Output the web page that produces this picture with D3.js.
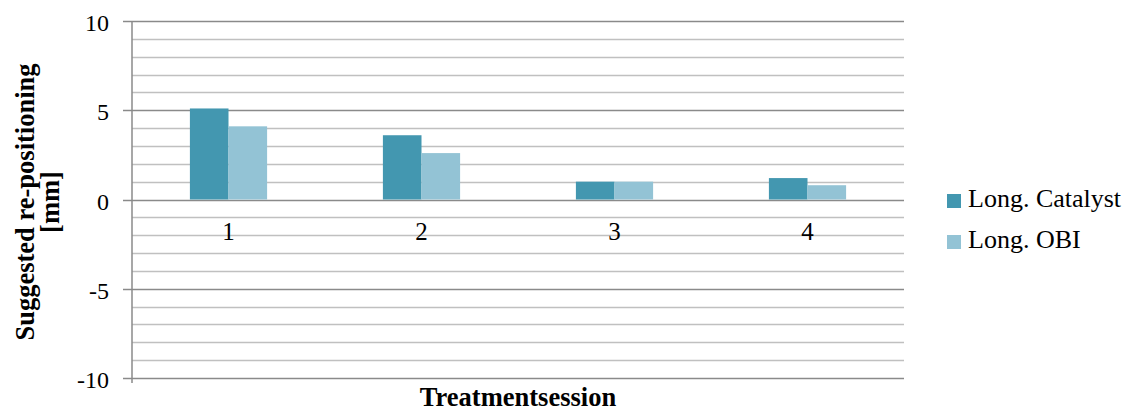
<!DOCTYPE html>
<html>
<head>
<meta charset="utf-8">
<script src="https://cdn.jsdelivr.net/npm/d3@7"></script>
<style>
  body { margin: 0; background: #fff; }
  svg { display: block; }
  text { font-family: "Liberation Serif", "Times New Roman", Times, serif; }
</style>
</head>
<body>
<svg id="chart" width="1127" height="412"></svg>
<script>
// Suggested re-positioning per treatment session
const sessions = ["1", "2", "3", "4"];
const seriesNames = ["Long. Catalyst", "Long. OBI"];
const catalyst = [5.1, 3.6, 1.0, 1.2];
const obi = [4.1, 2.6, 1.0, 0.8];
const yTicks = [-10, -5, 0, 5, 10];
const colors = ["#4397b0", "#93c3d5"];

const svg = d3.select("#chart");
const plot = { left: 132, right: 904, top: 21, bottom: 378 };

const x = d3.scaleBand().domain(sessions).range([plot.left, plot.right]).paddingInner(0).paddingOuter(0);
const y = d3.scaleLinear().domain([-10, 10]).range([plot.bottom, plot.top]);
const barW = x.bandwidth() * 0.2;

// minor gridlines at every unit
const minor = d3.range(-10, 11, 1).filter(v => v % 5 !== 0);
svg.append("g").selectAll("line").data(minor).join("line")
  .attr("x1", plot.left).attr("x2", plot.right)
  .attr("y1", d => Math.round(y(d)) + 0.5).attr("y2", d => Math.round(y(d)) + 0.5)
  .attr("stroke", "#c0c0c0").attr("stroke-width", 1.5);

// major gridlines with left tick marks
svg.append("g").selectAll("line").data(yTicks).join("line")
  .attr("x1", plot.left - 9).attr("x2", plot.right)
  .attr("y1", d => Math.round(y(d)) + 0.5).attr("y2", d => Math.round(y(d)) + 0.5)
  .attr("stroke", "#8a8a8a").attr("stroke-width", 1.5);

// vertical axis line
svg.append("line")
  .attr("x1", plot.left).attr("x2", plot.left)
  .attr("y1", plot.top).attr("y2", plot.bottom + 5)
  .attr("stroke", "#8a8a8a").attr("stroke-width", 1.5);

// bars
const series = [catalyst, obi];
series.forEach((vals, si) => {
  svg.append("g").selectAll("rect").data(vals).join("rect")
    .attr("x", (d, i) => x(sessions[i]) + x.bandwidth() / 2 - barW + si * barW)
    .attr("width", barW)
    .attr("y", d => y(Math.max(0, d)))
    .attr("height", d => Math.abs(y(d) - y(0)))
    .attr("fill", colors[si]);
});

// y tick labels
svg.append("g").selectAll("text").data(yTicks).join("text")
  .attr("x", 109).attr("y", d => y(d) + 10)
  .attr("text-anchor", "end").attr("font-size", 24).attr("fill", "#000")
  .text(d => d);

// category labels under the zero line
svg.append("g").selectAll("text").data(sessions).join("text")
  .attr("x", d => x(d) + x.bandwidth() / 2).attr("y", y(0) + 40)
  .attr("text-anchor", "middle").attr("font-size", 25).attr("fill", "#000")
  .text(d => d);

// axis titles
const yt = svg.append("text")
  .attr("transform", "translate(34,202) rotate(-90)")
  .attr("text-anchor", "middle").attr("font-size", 26.5).attr("font-weight", "bold");
yt.append("tspan").attr("x", 0).attr("dy", 0).text("Suggested re-positioning");
yt.append("tspan").attr("x", 0).attr("dy", 25).text("[mm]");

svg.append("text")
  .attr("x", (plot.left + plot.right) / 2).attr("y", 406)
  .attr("text-anchor", "middle").attr("font-size", 26.5).attr("font-weight", "bold")
  .text("Treatmentsession");

// legend
const legend = svg.append("g").selectAll("g").data(seriesNames).join("g")
  .attr("transform", (d, i) => "translate(947," + (194 + i * 41) + ")");
legend.append("rect").attr("width", 14).attr("height", 14).attr("fill", (d, i) => colors[i]);
legend.append("text").attr("x", 21).attr("y", 13).attr("font-size", 26).text(d => d);
</script>
</body>
</html>
